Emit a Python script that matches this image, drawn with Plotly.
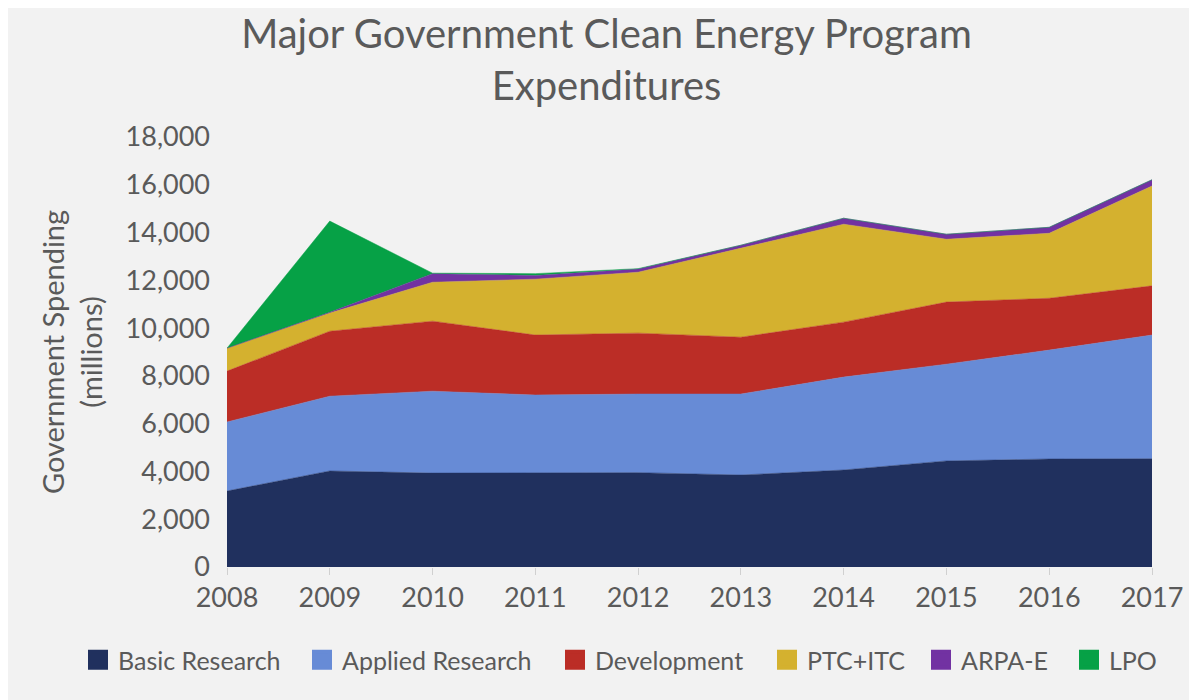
import plotly.graph_objects as go

years = [2008, 2009, 2010, 2011, 2012, 2013, 2014, 2015, 2016, 2017]
basic_research = [3180, 4020, 3930, 3930, 3950, 3850, 4060, 4440, 4520, 4530]
applied_research = [2890, 3130, 3430, 3270, 3290, 3390, 3890, 4050, 4560, 5180]
development = [2130, 2720, 2930, 2510, 2550, 2380, 2300, 2600, 2170, 2060]
ptc_itc = [960, 760, 1630, 2340, 2550, 3730, 4100, 2630, 2720, 4180]
arpa_e = [0, 30, 360, 150, 130, 120, 250, 210, 250, 260]
lpo = [0, 3820, 20, 80, 20, 0, 0, 0, 0, 0]

series_names = ["Basic Research", "Applied Research", "Development", "PTC+ITC", "ARPA-E", "LPO"]
series_values = [basic_research, applied_research, development, ptc_itc, arpa_e, lpo]
series_colors = ["#20305e", "#678bd6", "#bb2d26", "#d4b12f", "#7232a2", "#06a146"]
# left edge (page px) of each legend entry
legend_left_px = [92, 316, 569, 781, 935, 1083]

TEXT = "#5a5a5a"
FONT = "Lato"
W, H = 1197, 700
L, R, T, B = 219, 53, 129, 141
BODY = 8  # browser body margin

fig = go.Figure()
for name, vals, color in zip(series_names, series_values, series_colors):
    fig.add_trace(go.Scatter(
        x=years, y=vals, name=name, stackgroup="one", mode="lines",
        line=dict(width=0.5, color=color), fillcolor=color,
        showlegend=False, hoverinfo="x+y+name",
    ))

legend_layouts = {}
for i, (name, color, lx) in enumerate(zip(series_names, series_colors, legend_left_px)):
    key = "legend" if i == 0 else f"legend{i + 1}"
    fig.add_trace(go.Scatter(
        x=[None], y=[None], name=name, mode="markers",
        marker=dict(symbol="square", size=16, color=color, line=dict(width=4, color=color)),
        showlegend=True, legend=key,
    ))
    legend_layouts[key] = dict(
        orientation="h", xref="container", yref="container",
        x=(lx - BODY - 14) / W, xanchor="left",
        y=1 - (660 - BODY) / H, yanchor="middle",
        font=dict(family=FONT, size=25, color=TEXT), itemwidth=30,
        bgcolor="rgba(0,0,0,0)",
    )

fig.update_layout(
    width=W, height=H,
    margin=dict(l=L, r=R, t=T, b=B),
    paper_bgcolor="#f2f2f2", plot_bgcolor="#f2f2f2",
    font=dict(family=FONT, color=TEXT, size=27),
    title=dict(text="Major Government Clean Energy Program<br>Expenditures",
               x=0.5, xanchor="center", xref="container",
               y=1 - 40 / H, yanchor="top", yref="container",
               font=dict(family=FONT, size=40, color=TEXT)),
    xaxis=dict(range=[2008, 2017], tickvals=years, ticktext=[str(y) for y in years],
               showgrid=False, zeroline=False, showline=False,
               ticks="outside", ticklen=7, tickcolor="#d0d0d0", tickwidth=1,
               tickfont=dict(size=27, color=TEXT)),
    yaxis=dict(range=[0, 18000], tickvals=list(range(0, 18001, 2000)),
               tickformat=",d", showgrid=False, zeroline=False, showline=False,
               ticks="", ticklabelstandoff=16,
               tickfont=dict(size=27, color=TEXT),
               title=dict(text="Government Spending<br>(millions)",
                          font=dict(size=29, color=TEXT), standoff=14)),
    **legend_layouts,
)

fig.write_html("out.html")
